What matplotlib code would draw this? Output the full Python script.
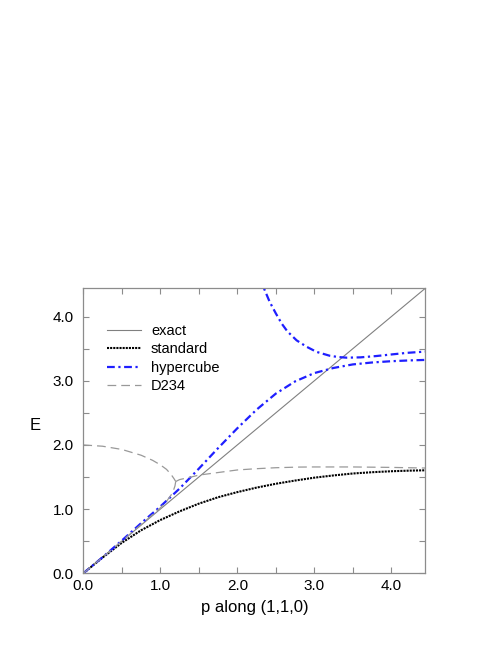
import matplotlib
matplotlib.use("Agg")
import matplotlib.pyplot as plt

plt.rcParams['font.family'] = ['Liberation Sans', 'DejaVu Sans']

# exact dispersion E = p
exact_p = [0.0, 4.443]
exact_E = [0.0, 4.443]

# standard action
std_p = [0.0, 0.25, 0.5, 0.75, 1.0, 1.25, 1.5, 1.75, 2.0, 2.25, 2.5, 2.75,
         3.0, 3.25, 3.5, 3.75, 4.0, 4.25, 4.443]
std_E = [0.0, 0.245, 0.475, 0.67, 0.83, 0.965, 1.085, 1.185, 1.265, 1.335,
         1.395, 1.445, 1.49, 1.525, 1.555, 1.575, 1.59, 1.60, 1.605]

# hypercube action, lower branch
hyp_p = [0.0, 0.25, 0.5, 0.75, 1.0, 1.25, 1.5, 1.75, 2.0, 2.25, 2.5, 2.75,
         3.0, 3.25, 3.5, 3.75, 4.0, 4.25, 4.443]
hyp_E = [0.0, 0.25, 0.51, 0.78, 1.04, 1.32, 1.63, 1.95, 2.26, 2.55, 2.80,
         2.99, 3.12, 3.20, 3.255, 3.285, 3.305, 3.318, 3.325]

# hypercube action, upper branch
hyp2_p = [2.29, 2.42, 2.50, 2.577, 2.65, 2.77, 2.90, 3.03, 3.20, 3.31, 3.42,
          3.60, 3.80, 4.00, 4.20, 4.443]
hyp2_E = [4.60, 4.23, 4.05, 3.89, 3.77, 3.63, 3.53, 3.45, 3.39, 3.37, 3.36,
          3.365, 3.385, 3.41, 3.435, 3.455]

# D234 action: upper branch from E=2, lower branch, and merged branch
d_up_p = [0.0, 0.25, 0.5, 0.75, 0.9, 1.0, 1.08, 1.14, 1.18, 1.20]
d_up_E = [2.0, 1.98, 1.93, 1.84, 1.76, 1.69, 1.62, 1.54, 1.47, 1.43]
d_lo_p = [0.0, 0.5, 0.8, 1.0, 1.08, 1.14, 1.17, 1.19, 1.20]
d_lo_E = [0.0, 0.5, 0.81, 1.02, 1.12, 1.22, 1.29, 1.36, 1.43]
d_hi_p = [1.20, 1.25, 1.4, 1.5, 1.75, 2.0, 2.25, 2.5, 2.8, 3.0, 3.5, 4.0, 4.443]
d_hi_E = [1.43, 1.46, 1.50, 1.53, 1.57, 1.61, 1.63, 1.645, 1.655, 1.657,
          1.657, 1.65, 1.64]

xticks = [0.0, 1.0, 2.0, 3.0, 4.0]
yticks = [0.0, 1.0, 2.0, 3.0, 4.0]
tick_labels = ["0.0", "1.0", "2.0", "3.0", "4.0"]

fig = plt.figure(figsize=(4.98, 6.45), dpi=100)
ax = fig.add_axes([0.1673, 0.1112, 0.687, 0.442])

gray = '#8c8c8c'
blue = '#1f1fff'
hyp_ls = (0, (3.5, 1.6, 1.0, 1.6))
d_ls = (0, (7, 4))
ax.plot(exact_p, exact_E, color='#808080', lw=0.8, label='exact')
ax.plot(std_p, std_E, color='black', lw=1.5, linestyle=(0, (1, 0.5)), label='standard')
ax.plot(hyp_p, hyp_E, color=blue, lw=1.6, linestyle=hyp_ls, label='hypercube')
ax.plot(hyp2_p, hyp2_E, color=blue, lw=1.6, linestyle=hyp_ls)
ax.plot(d_up_p, d_up_E, color='#999999', lw=0.9, linestyle=d_ls, label='D234')
ax.plot(d_lo_p, d_lo_E, color='#999999', lw=0.9, linestyle=d_ls)
ax.plot(d_hi_p, d_hi_E, color='#999999', lw=0.9, linestyle=d_ls)

ax.set_xlim(0, 4.443)
ax.set_ylim(0, 4.443)
ax.set_xticks(xticks)
ax.set_xticklabels(tick_labels)
ax.set_yticks(yticks)
ax.set_yticklabels(tick_labels)
ax.set_xticks([0.5, 1.5, 2.5, 3.5], minor=True)
ax.set_yticks([0.5, 1.5, 2.5, 3.5], minor=True)
ax.tick_params(which='both', direction='in', top=True, right=True,
               color=gray, width=0.8, labelsize=11)
ax.tick_params(which='major', length=4)
ax.tick_params(which='minor', length=4)
ax.tick_params(axis='y', pad=7)
ax.tick_params(axis='x', pad=4)
for s in ax.spines.values():
    s.set_color(gray)
    s.set_linewidth(0.9)

ax.set_xlabel('p along (1,1,0)', fontsize=12, labelpad=5)
ax.set_ylabel('E', fontsize=12, rotation=0, va='center', ha='center')
ax.yaxis.set_label_coords(-0.141, 0.52)

ax.legend(loc='upper left', bbox_to_anchor=(0.068, 0.874), frameon=False,
          fontsize=10.5, handlelength=2.35, handletextpad=0.7,
          labelspacing=0.3, borderpad=0, borderaxespad=0)

fig.savefig('out.png', dpi=100)
